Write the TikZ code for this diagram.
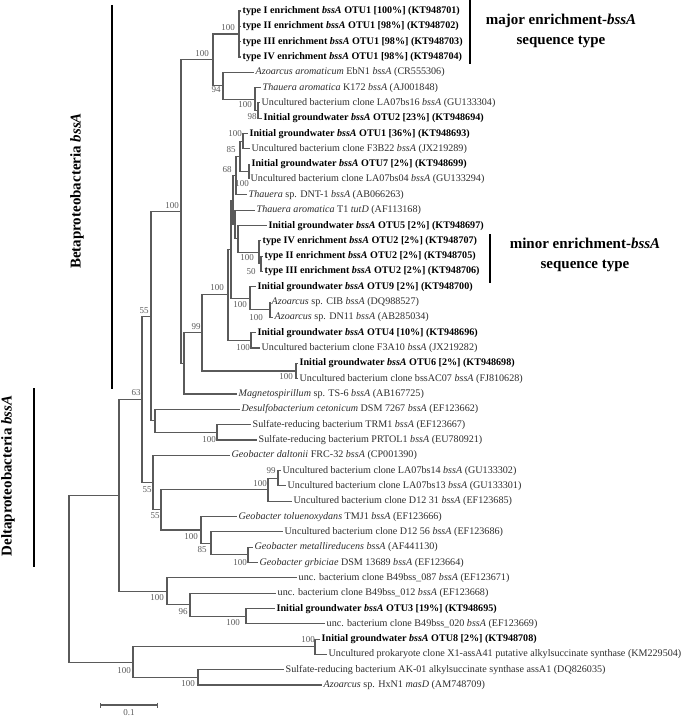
\documentclass[tikz,border=0pt]{standalone}
\usepackage{fontspec}
\setmainfont{Liberation Serif}
\usetikzlibrary{arrows.meta}
\definecolor{branchgray}{RGB}{90,90,90}
\definecolor{leafgray}{RGB}{45,45,45}
\newcommand{\bss}{\textit{bssA}}

\begin{document}
\begin{tikzpicture}[x=1pt, y=-1pt,
    branch/.style={draw=branchgray, line width=1.1pt},
    leaf/.style={anchor=west, inner sep=1.5pt, text height=7pt, text depth=2pt,
      font=\fontsize{10.1}{12}\selectfont, text=leafgray},
    boldleaf/.style={leaf, text=black, font=\bfseries\fontsize{10.1}{12}\selectfont},
    boot/.style={font=\fontsize{9}{10}\selectfont, text=branchgray, inner sep=0pt},
    cladebar/.style={line width=2.3pt},
    cladelab/.style={font=\bfseries\fontsize{15}{20}\selectfont, align=center}]
  \useasboundingbox (0,0) rectangle (685,719);

  % leaves, top to bottom
  \node[boldleaf] (l1) at (241,11.0) {type I enrichment \bss{} OTU1 [100\%] (KT948701)};
  \node[boldleaf] (l2) at (241,26.3) {type II enrichment \bss{} OTU1 [98\%] (KT948702)};
  \node[boldleaf] (l3) at (241,41.6) {type III enrichment \bss{} OTU1 [98\%] (KT948703)};
  \node[boldleaf] (l4) at (241,57.0) {type IV enrichment \bss{} OTU1 [98\%] (KT948704)};
  \node[leaf] (l5) at (254,72.3) {\textit{Azoarcus aromaticum} EbN1 \bss{} (CR555306)};
  \node[leaf] (l6) at (261,87.6) {\textit{Thauera aromatica} K172 \bss{} (AJ001848)};
  \node[leaf] (l7) at (260,102.9) {Uncultured bacterium clone LA07bs16 \bss{} (GU133304)};
  \node[boldleaf] (l8) at (262,118.2) {Initial groundwater \bss{} OTU2 [23\%] (KT948694)};
  \node[boldleaf] (l9) at (248,133.6) {Initial groundwater \bss{} OTU1 [36\%] (KT948693)};
  \node[leaf] (l10) at (250,148.9) {Uncultured bacterium clone F3B22 \bss{} (JX219289)};
  \node[boldleaf] (l11) at (250,164.2) {Initial groundwater \bss{} OTU7 [2\%] (KT948699)};
  \node[leaf] (l12) at (249,179.5) {Uncultured bacterium clone LA07bs04 \bss{} (GU133294)};
  \node[leaf] (l13) at (247,194.8) {\textit{Thauera} sp. DNT-1 \bss{} (AB066263)};
  \node[leaf] (l14) at (255,210.2) {\textit{Thauera aromatica} T1 \textit{tutD} (AF113168)};
  \node[boldleaf] (l15) at (267,225.5) {Initial groundwater \bss{} OTU5 [2\%] (KT948697)};
  \node[boldleaf] (l16) at (261,240.8) {type IV enrichment \bss{} OTU2 [2\%] (KT948707)};
  \node[boldleaf] (l17) at (263,256.1) {type II enrichment \bss{} OTU2 [2\%] (KT948705)};
  \node[boldleaf] (l18) at (263,271.4) {type III enrichment \bss{} OTU2 [2\%] (KT948706)};
  \node[boldleaf] (l19) at (256,286.8) {Initial groundwater \bss{} OTU9 [2\%] (KT948700)};
  \node[leaf] (l20) at (270,302.1) {\textit{Azoarcus} sp. CIB \bss{} (DQ988527)};
  \node[leaf] (l21) at (273,317.4) {\textit{Azoarcus} sp. DN11 \bss{} (AB285034)};
  \node[boldleaf] (l22) at (256,332.7) {Initial groundwater \bss{} OTU4 [10\%] (KT948696)};
  \node[leaf] (l23) at (260,348.0) {Uncultured bacterium clone F3A10 \bss{} (JX219282)};
  \node[boldleaf] (l24) at (298,363.4) {Initial groundwater \bss{} OTU6 [2\%] (KT948698)};
  \node[leaf] (l25) at (298,378.7) {Uncultured bacterium clone bssAC07 \bss{} (FJ810628)};
  \node[leaf] (l26) at (237,394.0) {\textit{Magnetospirillum} sp. TS-6 \bss{} (AB167725)};
  \node[leaf] (l27) at (240,409.3) {\textit{Desulfobacterium cetonicum} DSM 7267 \bss{} (EF123662)};
  \node[leaf] (l28) at (251,424.6) {Sulfate-reducing bacterium TRM1 \bss{} (EF123667)};
  \node[leaf] (l29) at (257,440.0) {Sulfate-reducing bacterium PRTOL1 \bss{} (EU780921)};
  \node[leaf] (l30) at (230,455.3) {\textit{Geobacter daltonii} FRC-32 \bss{} (CP001390)};
  \node[leaf] (l31) at (281,470.6) {Uncultured bacterium clone LA07bs14 \bss{} (GU133302)};
  \node[leaf] (l32) at (286,485.9) {Uncultured bacterium clone LA07bs13 \bss{} (GU133301)};
  \node[leaf] (l33) at (292,501.2) {Uncultured bacterium clone D12 31 \bss{} (EF123685)};
  \node[leaf] (l34) at (237,516.6) {\textit{Geobacter toluenoxydans} TMJ1 \bss{} (EF123666)};
  \node[leaf] (l35) at (283,531.9) {Uncultured bacterium clone D12 56 \bss{} (EF123686)};
  \node[leaf] (l36) at (253,547.2) {\textit{Geobacter metallireducens} \bss{} (AF441130)};
  \node[leaf] (l37) at (258,562.5) {\textit{Geobacter grbiciae} DSM 13689 \bss{} (EF123664)};
  \node[leaf] (l38) at (297,577.8) {unc. bacterium clone B49bss\_087 \bss{} (EF123671)};
  \node[leaf] (l39) at (276,593.2) {unc. bacterium clone B49bss\_012 \bss{} (EF123668)};
  \node[boldleaf] (l40) at (275,608.5) {Initial groundwater \bss{} OTU3 [19\%] (KT948695)};
  \node[leaf] (l41) at (325,623.8) {unc. bacterium clone B49bss\_020 \bss{} (EF123669)};
  \node[boldleaf] (l42) at (320,639.1) {Initial groundwater \bss{} OTU8 [2\%] (KT948708)};
  \node[leaf] (l43) at (327,654.4) {Uncultured prokaryote clone X1-assA41 putative alkylsuccinate synthase (KM229504)};
  \node[leaf] (l44) at (284,669.8) {Sulfate-reducing bacterium AK-01 alkylsuccinate synthase assA1 (DQ826035)};
  \node[leaf] (l45) at (322,685.0) {\textit{Azoarcus} sp. HxN1 \textit{masD} (AM748709)};

  % inner nodes (x = distance, y = middle of children)
  \coordinate (root) at (69,578.7);
  \coordinate (nAA) at (119,495.4);
  \coordinate (nY) at (142,399.4);
  \coordinate (nH) at (151,316.3);
  \coordinate (nE) at (181,211.7);
  \coordinate (nB) at (213,59.9);
  \coordinate (majorOTU1) at (239,34.0);
  \coordinate (nC) at (223,85.7);
  \coordinate (nD) at (255,99.1);
  \coordinate (nD2) at (258,110.6);
  \coordinate (nF) at (184,363.5);
  \coordinate (nG) at (202,332.9);
  \coordinate (nI) at (228,294.8);
  \coordinate (nT) at (231,249.2);
  \coordinate (nU) at (233,200.1);
  \coordinate (nM) at (236,175.7);
  \coordinate (nK) at (240,156.5);
  \coordinate (nJ) at (243,141.2);
  \coordinate (nL) at (249,171.9);
  \coordinate (nN) at (235,224.6);
  \coordinate (nO) at (238,238.9);
  \coordinate (minorOTU2) at (259,252.3);
  \coordinate (nR) at (261,263.8);
  \coordinate (nS) at (250,298.3);
  \coordinate (nS2) at (270,309.8);
  \coordinate (nQ) at (251,340.4);
  \coordinate (nV) at (296,371.0);
  \coordinate (nW) at (155,420.8);
  \coordinate (nX) at (217,432.3);
  \coordinate (nZ) at (153,482.6);
  \coordinate (nAB) at (161,509.9);
  \coordinate (nAC) at (268,489.7);
  \coordinate (nAE) at (278,478.3);
  \coordinate (nAD) at (201,530.0);
  \coordinate (nAF) at (211,543.4);
  \coordinate (nAG) at (248,554.9);
  \coordinate (nAH) at (167,591.3);
  \coordinate (nAI) at (190,604.7);
  \coordinate (nAJ) at (246,616.2);
  \coordinate (nAK) at (133,662.1);
  \coordinate (nAL) at (315,646.8);
  \coordinate (nAM) at (198,677.4);

  % branches
  \foreach \p/\c in {root/nAA, root/nAK, nAA/nY, nAA/nAH, nY/nH, nY/nZ,
      nH/nE, nH/nW, nE/nB, nE/nF, nB/majorOTU1, nB/nC,
      majorOTU1/l1.west, majorOTU1/l2.west, majorOTU1/l3.west, majorOTU1/l4.west,
      nC/l5.west, nC/nD, nD/l6.west, nD/nD2, nD2/l7.west, nD2/l8.west,
      nF/nG, nF/l26.west, nG/nI, nG/nV, nI/nT, nI/nQ, nT/nU, nT/nS,
      nU/nM, nU/nN, nM/nK, nM/l13.west, nK/nJ, nK/nL,
      nJ/l9.west, nJ/l10.west, nL/l11.west, nL/l12.west,
      nN/l14.west, nN/nO, nO/l15.west, nO/minorOTU2,
      minorOTU2/l16.west, minorOTU2/nR, nR/l17.west, nR/l18.west,
      nS/l19.west, nS/nS2, nS2/l20.west, nS2/l21.west,
      nQ/l22.west, nQ/l23.west, nV/l24.west, nV/l25.west,
      nW/l27.west, nW/nX, nX/l28.west, nX/l29.west,
      nZ/l30.west, nZ/nAB, nAB/nAC, nAB/nAD, nAC/nAE, nAC/l33.west,
      nAE/l31.west, nAE/l32.west, nAD/l34.west, nAD/nAF,
      nAF/l35.west, nAF/nAG, nAG/l36.west, nAG/l37.west,
      nAH/l38.west, nAH/nAI, nAI/l39.west, nAI/nAJ, nAJ/l40.west, nAJ/l41.west,
      nAK/nAL, nAK/nAM, nAL/l42.west, nAL/l43.west, nAM/l44.west, nAM/l45.west}
    \draw[branch] (\p) |- (\c);

  % bootstrap values
  \node[boot] (bA) at (228,28) {100};
  \node[boot] (bB) at (202,54) {100};
  \node[boot] (bC) at (216,90) {94};
  \node[boot] (bD) at (245,105) {100};
  \node[boot] (bD2) at (252,117) {98};
  \node[boot] (bJ) at (235,134) {100};
  \node[boot] (bK) at (231,150) {85};
  \node[boot] (bM) at (227,170) {68};
  \node[boot] (bL) at (242,184) {100};
  \node[boot] (bR1) at (247,258) {100};
  \node[boot] (bR2) at (251,272) {50};
  \node[boot] (bI) at (217,288) {100};
  \node[boot] (bS) at (240,305) {100};
  \node[boot] (bS2) at (256,318) {100};
  \node[boot] (bQ) at (243,348) {100};
  \node[boot] (bG) at (196,327) {99};
  \node[boot] (bV) at (286,377) {100};
  \node[boot] (bE) at (172,206) {100};
  \node[boot] (bH) at (144,311) {55};
  \node[boot] (bY) at (136,393) {63};
  \node[boot] (bX) at (209,440) {100};
  \node[boot] (bAE) at (271,471) {99};
  \node[boot] (bAC) at (260,484) {100};
  \node[boot] (bZ) at (147,490) {55};
  \node[boot] (bAB) at (155,516) {55};
  \node[boot] (bAD) at (191,537) {100};
  \node[boot] (bAF) at (202,550) {85};
  \node[boot] (bAG) at (240,563) {100};
  \node[boot] (bAH) at (157,598) {100};
  \node[boot] (bAI) at (183,612) {96};
  \node[boot] (bAJ) at (233,623) {100};
  \node[boot] (bAL) at (308,640) {100};
  \node[boot] (bAK) at (124,671) {100};
  \node[boot] (bAM) at (188,684) {100};

  % clade bars and names
  \draw[cladebar] (470,0) -- (470,64);
  \node[cladelab] (majorlab) at (561,31) {major enrichment-\textit{bssA}\\sequence type};
  \draw[cladebar] (490,234) -- (490,283);
  \node[cladelab] (minorlab) at (585,255) {minor enrichment-\textit{bssA}\\sequence type};
  \draw[cladebar] (112,5) -- (112,389);
  \node[cladelab, rotate=90] (betalab) at (77,191) {Betaproteobacteria \textit{bssA}};
  \draw[cladebar] (34,388) -- (34,567);
  \node[cladelab, rotate=90] (deltalab) at (8,476) {Deltaproteobacteria \textit{bssA}};

  % scale
  \draw[branch, {Bar[width=5pt]}-{Bar[width=5pt]}] (100,705) -- (158,705);
  \node[boot] (scalelab) at (129,713) {0.1};
\end{tikzpicture}
\end{document}
